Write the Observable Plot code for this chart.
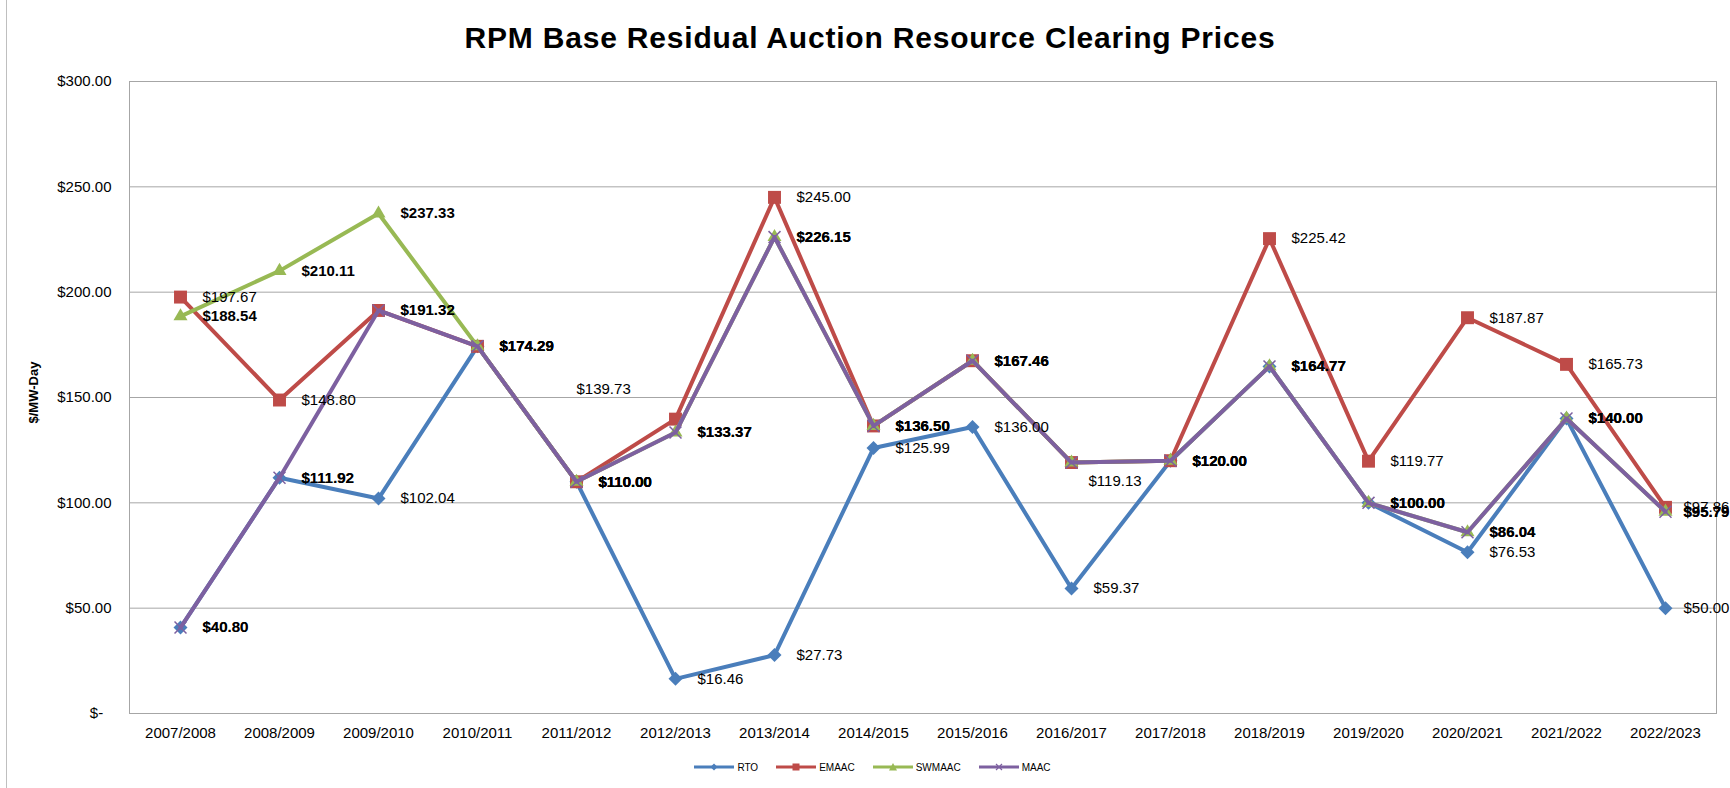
<!DOCTYPE html>
<html>
<head>
<meta charset="utf-8">
<script src="https://cdn.jsdelivr.net/npm/d3@7"></script>
<script src="https://cdn.jsdelivr.net/npm/@observablehq/plot@0.6"></script>
<style>
  body { margin: 0; background: #fff; font-family: "Liberation Sans", Arial, sans-serif; }
  #wrap { position: relative; width: 1730px; height: 788px; overflow: hidden; background: #fff; }
  #border { position: absolute; left: 6px; top: 0; width: 0; height: 788px; border-left: 1px solid #bfbfbf; }
  #title { position: absolute; left: 0; top: 23px; width: 1740px; text-align: center; font-weight: bold; font-size: 30px; line-height: 30px; letter-spacing: 0.8px; color: #000; }
  #chart { position: absolute; left: 0; top: 62px; }
  #legend { position: absolute; left: 0; top: 760px; width: 1745px; height: 14px; display: flex; justify-content: center; align-items: center; font-size: 10px; color: #000; }
  .item { display: flex; align-items: center; margin: 0 9px; }
  .item svg { margin-right: 3px; }
</style>
</head>
<body>
<div id="wrap">
  <div id="border"></div>
  <div id="title">RPM Base Residual Auction Resource Clearing Prices</div>
  <div id="chart"></div>
  <div id="legend"></div>
</div>
<script>
// ---- data ----
const years = ["2007/2008","2008/2009","2009/2010","2010/2011","2011/2012","2012/2013","2013/2014","2014/2015","2015/2016","2016/2017","2017/2018","2018/2019","2019/2020","2020/2021","2021/2022","2022/2023"];
const seriesNames = ["RTO","EMAAC","SWMAAC","MAAC"];
const rto    = [40.80, 111.92, 102.04, 174.29, 110.00, 16.46, 27.73, 125.99, 136.00, 59.37, 120.00, 164.77, 100.00, 76.53, 140.00, 50.00];
const emaac  = [197.67, 148.80, 191.32, 174.29, 110.00, 139.73, 245.00, 136.50, 167.46, 119.13, 120.00, 225.42, 119.77, 187.87, 165.73, 97.86];
const swmaac = [188.54, 210.11, 237.33, 174.29, 110.00, 133.37, 226.15, 136.50, 167.46, 119.13, 120.00, 164.77, 100.00, 86.04, 140.00, 95.79];
const maac   = [40.80, 111.92, 191.32, 174.29, 110.00, 133.37, 226.15, 136.50, 167.46, 119.13, 120.00, 164.77, 100.00, 86.04, 140.00, 95.79];
const yTicks = [0, 50, 100, 150, 200, 250, 300];

// ---- styling / layout ----
const seriesValues = [rto, emaac, swmaac, maac];
const colors = { RTO: "#4a7ebb", EMAAC: "#be4b48", SWMAAC: "#98b954", MAAC: "#7d60a0" };
const boldSeries = new Set(["SWMAAC", "MAAC"]);
const lastYear = years[years.length - 1];
const movedLabels = [
  { series: "EMAAC", year: "2012/2013", dx: -99, dy: -30 },
  { series: "EMAAC", year: "2016/2017", dx: 17, dy: 19 }
];
const hiddenLabels = [
  { series: "SWMAAC", year: "2016/2017" },
  { series: "MAAC", year: "2016/2017" }
];
const FONT = '"Liberation Sans", Arial, sans-serif';

const rows = seriesNames.flatMap((s, i) => years.map((yr, j) => ({ series: s, year: yr, value: seriesValues[i][j] })));
const fmt = v => "$" + d3.format(".2f")(v);
const isMoved = d => movedLabels.find(m => m.series === d.series && m.year === d.year);
const isHidden = d => hiddenLabels.some(m => m.series === d.series && m.year === d.year);

const seriesMarks = seriesNames.flatMap(s => {
  const data = rows.filter(d => d.series === s);
  const line = Plot.line(data, { x: "year", y: "value", stroke: colors[s], strokeWidth: 4, strokeLinejoin: "round" });
  let dot;
  if (s === "RTO") dot = Plot.dot(data, { x: "year", y: "value", symbol: "diamond2", r: 6.3, fill: colors[s], stroke: "none" });
  else if (s === "EMAAC") dot = Plot.dot(data, { x: "year", y: "value", symbol: "square", r: 7.3, fill: colors[s], stroke: "none" });
  else if (s === "SWMAAC") dot = Plot.dot(data, { x: "year", y: "value", symbol: "triangle", r: 5.2, fill: colors[s], stroke: "none" });
  else dot = Plot.dot(data, { x: "year", y: "value", symbol: "times", r: 5.5, stroke: colors[s], strokeWidth: 1.5, fill: "none" });
  return [line, dot];
});

const normalLabels = rows.filter(d => !isMoved(d) && !isHidden(d));
const labelMark = (data, bold, dx) => Plot.text(data.filter(d => boldSeries.has(d.series) === bold), {
  x: "year", y: "value", text: d => fmt(d.value), textAnchor: "start", dx, fontSize: 15,
  fontWeight: bold ? "bold" : "normal", fill: "#000"
});
const inner = normalLabels.filter(d => d.year !== lastYear);
const edge = normalLabels.filter(d => d.year === lastYear);
const labelMarks = [
  labelMark(inner, false, 22),
  labelMark(inner, true, 22),
  labelMark(edge, false, 18),
  labelMark(edge, true, 18),
  ...movedLabels.map(m => Plot.text(rows.filter(d => d.series === m.series && d.year === m.year), {
    x: "year", y: "value", text: d => fmt(d.value), textAnchor: "start", dx: m.dx, dy: m.dy, fontSize: 15,
    fontWeight: boldSeries.has(m.series) ? "bold" : "normal", fill: "#000"
  }))
];

const chart = Plot.plot({
  width: 1730,
  height: 700,
  marginLeft: 129,
  marginRight: 14,
  marginTop: 19,
  marginBottom: 49,
  style: { fontFamily: FONT, fontSize: "15px", color: "#000", background: "transparent", overflow: "visible" },
  x: { type: "point", domain: years, padding: 0.5 },
  y: { domain: [0, 300] },
  marks: [
    Plot.ruleY(yTicks.filter(t => t > 0), { stroke: "#a6a6a6", strokeWidth: 1 }),
    Plot.frame({ stroke: "#a6a6a6", strokeWidth: 1 }),
    Plot.axisY({ ticks: yTicks, tickSize: 0, tickPadding: 18, fontSize: 15, label: null,
      tickFormat: v => v === 0 ? "$-\u00a0\u00a0" : "$" + d3.format(".2f")(v) }),
    Plot.axisX({ tickSize: 0, tickPadding: 14, fontSize: 15, label: null }),
    Plot.text(["$/MW-Day"], { frameAnchor: "left", dx: -96, dy: 26, rotate: -90, fontSize: 13, fontWeight: "bold", fill: "#000" }),
    ...seriesMarks,
    ...labelMarks
  ]
});
document.getElementById("chart").appendChild(chart);

// ---- legend ----
const legend = document.getElementById("legend");
const markerSvg = {
  RTO: c => `<polygon points="20,1.5 23.5,5 20,8.5 16.5,5" fill="${c}"/>`,
  EMAAC: c => `<rect x="16.5" y="1.5" width="7" height="7" fill="${c}"/>`,
  SWMAAC: c => `<polygon points="20,1 24,8.5 16,8.5" fill="${c}"/>`,
  MAAC: c => `<path d="M17,2L23,8M17,8L23,2" stroke="${c}" stroke-width="1.2"/>`
};
seriesNames.forEach(s => {
  const item = document.createElement("div");
  item.className = "item";
  item.innerHTML = `<svg width="40" height="10"><line x1="0" y1="5" x2="40" y2="5" stroke="${colors[s]}" stroke-width="3"/>${markerSvg[s](colors[s])}</svg><span>${s}</span>`;
  legend.appendChild(item);
});
</script>
</body>
</html>
